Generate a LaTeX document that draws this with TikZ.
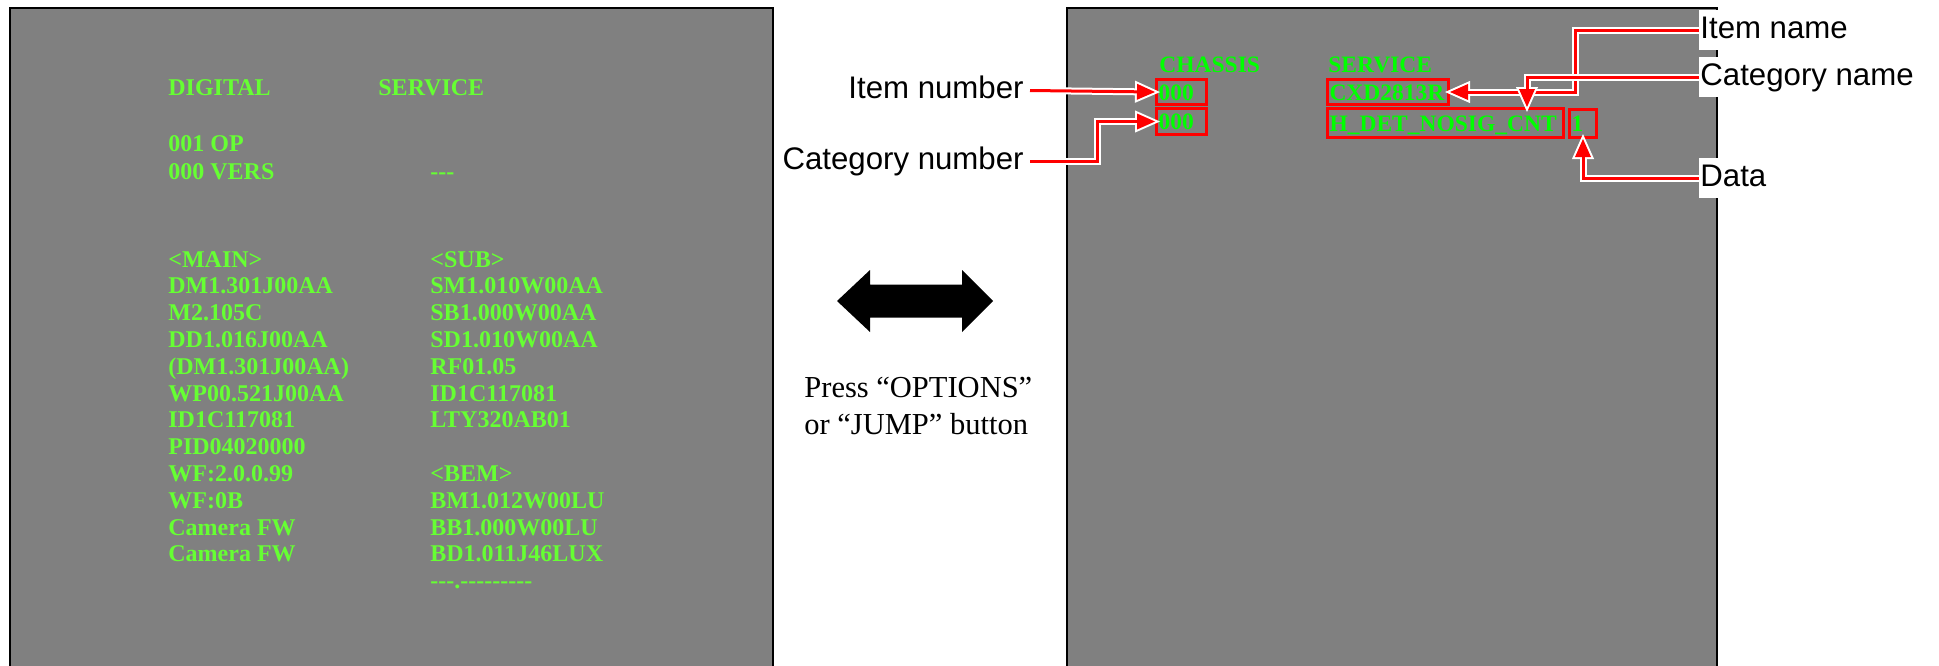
\documentclass[tikz,border=0pt]{standalone}
\usepackage{fontspec}
\setmainfont{Liberation Serif}
\newfontfamily\arialf{Liberation Sans}
\usetikzlibrary{arrows.meta}
\definecolor{lgreen}{RGB}{102,255,51}
\definecolor{vgreen}{RGB}{0,255,0}
\definecolor{panelgray}{RGB}{128,128,128}
\newcommand\hy{-\kern0pt }
\newcommand\conn[1]{\draw[wlayer] #1; \draw[rlayer] #1;}
\begin{document}
\begin{tikzpicture}[x=0.5pt,y=-0.5pt,
 panel/.style={draw=black, line width=1.2pt, fill=panelgray},
 ltxt/.style={anchor=base west, inner sep=0pt, text=lgreen, font=\bfseries\fontsize{12}{14}\selectfont},
 gtxt/.style={anchor=base west, inner sep=0pt, text=vgreen, font=\bfseries\fontsize{11.75}{14}\selectfont},
 gbox/.style={draw=red, line width=1.5pt, text=vgreen, font=\bfseries\fontsize{11.75}{14}\selectfont, inner xsep=1pt, inner ysep=0pt, text height=8pt, text depth=0pt, align=left, anchor=north west},
 lbl/.style={font=\arialf\fontsize{15.6}{18}\selectfont, inner ysep=1pt, text height=13pt, text depth=5pt},
 ptxt/.style={font=\fontsize{15.25}{18}\selectfont, inner sep=0pt, anchor=base west},
 wlayer/.style={draw=white, line width=3.5pt, -{Triangle[length=12.5pt,width=11.1pt,line width=0pt]}, shorten >=-2.5pt},
 rlayer/.style={draw=red, line width=1.5pt, -{Triangle[length=9pt,width=8pt,line width=0pt]}},
]
\useasboundingbox (0,0) rectangle (1939,665);
\clip (0,0) rectangle (1939,665);
\fill[white] (0,0) rectangle (1939,665);

% panels
\draw[panel] (10,8) rectangle (773,700);
\draw[panel] (1067,8) rectangle (1717,700);

% left panel text
\node[ltxt] (t1)  at (168,95.6)  {DIGITAL};
\node[ltxt] (t2)  at (378,95.6)  {SERVICE};
\node[ltxt] (t3)  at (168,151)   {001 OP};
\node[ltxt] (t4)  at (168,179.6) {000 VERS};
\node[ltxt] (t5)  at (430,179.6) {\hy\hy\hy};
\node[ltxt] (t6)  at (168,267)   {<MAIN>};
\node[ltxt] (t7)  at (430,267)   {<SUB>};
\node[ltxt] (t8)  at (168,293.8) {DM1.301J00AA};
\node[ltxt] (t9)  at (430,293.8) {SM1.010W00AA};
\node[ltxt] (t10) at (168,320.6) {M2.105C};
\node[ltxt] (t11) at (430,320.6) {SB1.000W00AA};
\node[ltxt] (t12) at (168,347.4) {DD1.016J00AA};
\node[ltxt] (t13) at (430,347.4) {SD1.010W00AA};
\node[ltxt] (t14) at (168,374.2) {(DM1.301J00AA)};
\node[ltxt] (t15) at (430,374.2) {RF01.05};
\node[ltxt] (t16) at (168,401)   {WP00.521J00AA};
\node[ltxt] (t17) at (430,401)   {ID1C117081};
\node[ltxt] (t18) at (168,427.8) {ID1C117081};
\node[ltxt] (t19) at (430,427.8) {LTY320AB01};
\node[ltxt] (t20) at (168,454.6) {PID04020000};
\node[ltxt] (t21) at (168,481.4) {WF:2.0.0.99};
\node[ltxt] (t22) at (430,481.4) {<BEM>};
\node[ltxt] (t23) at (168,508.2) {WF:0B};
\node[ltxt] (t24) at (430,508.2) {BM1.012W00LU};
\node[ltxt] (t25) at (168,535)   {Camera FW};
\node[ltxt] (t26) at (430,535)   {BB1.000W00LU};
\node[ltxt] (t27) at (168,561.8) {Camera FW};
\node[ltxt] (t28) at (430,561.8) {BD1.011J46LUX};
\node[ltxt] (t29) at (430,588.6) {\hy\hy\hy.\hy\hy\hy\hy\hy\hy\hy\hy\hy};

% middle double arrow and caption
\fill[black] (837,301) -- (870,270) -- (870,284.5) -- (962,284.5) -- (962,270) -- (993,301)
  -- (962,332) -- (962,317.5) -- (870,317.5) -- (870,332) -- cycle;
\node[ptxt] (press1) at (804,397) {Press “OPTIONS”};
\node[ptxt] (press2) at (804,434) {or “JUMP” button};

% right panel text
\node[gtxt] (ch) at (1159,72) {CHASSIS};
\node[gtxt] (sv) at (1328,72) {SERVICE};
\node[gbox, text width=23pt, minimum height=12.5pt] (b1) at (1155,78) {000};
\node[gbox, text width=23pt, minimum height=13pt] (b2) at (1155,107) {000};
\node[gbox, text width=58.5pt, minimum height=12.5pt] (cxd) at (1326,78) {CXD2813R};
\node[gbox, text width=116pt, minimum height=14.5pt] (hdet) at (1326,107) {H\_DET\_NOSIG\_CNT};
\node[gbox, text width=11.5pt, minimum height=14pt] (one) at (1568,108) {1};

% labels
\node[lbl, anchor=east, inner xsep=3pt] (inum) at (1030,90.5) {Item number};
\node[lbl, anchor=east, inner xsep=3pt] (cnum) at (1030,161) {Category number};
\node[lbl, anchor=west, inner xsep=0.5pt, fill=white] (iname) at (1699,30) {Item name};
\node[lbl, anchor=west, inner xsep=0.5pt, fill=white] (cname) at (1699,77) {Category name};
\node[lbl, anchor=west, inner xsep=0.5pt, fill=white] (dname) at (1699,178) {Data};

% connectors
\conn{(inum.east) -- (b1.west)}
\conn{(cnum.east) -- ++(67,0) |- (b2.west)}
\conn{(iname.west) -- ++(-124,0) |- (cxd.east)}
\conn{(cname.west) -| ([xshift=-19pt]hdet.north east)}
\conn{(dname.west) -| (one.south)}
\end{tikzpicture}
\end{document}
